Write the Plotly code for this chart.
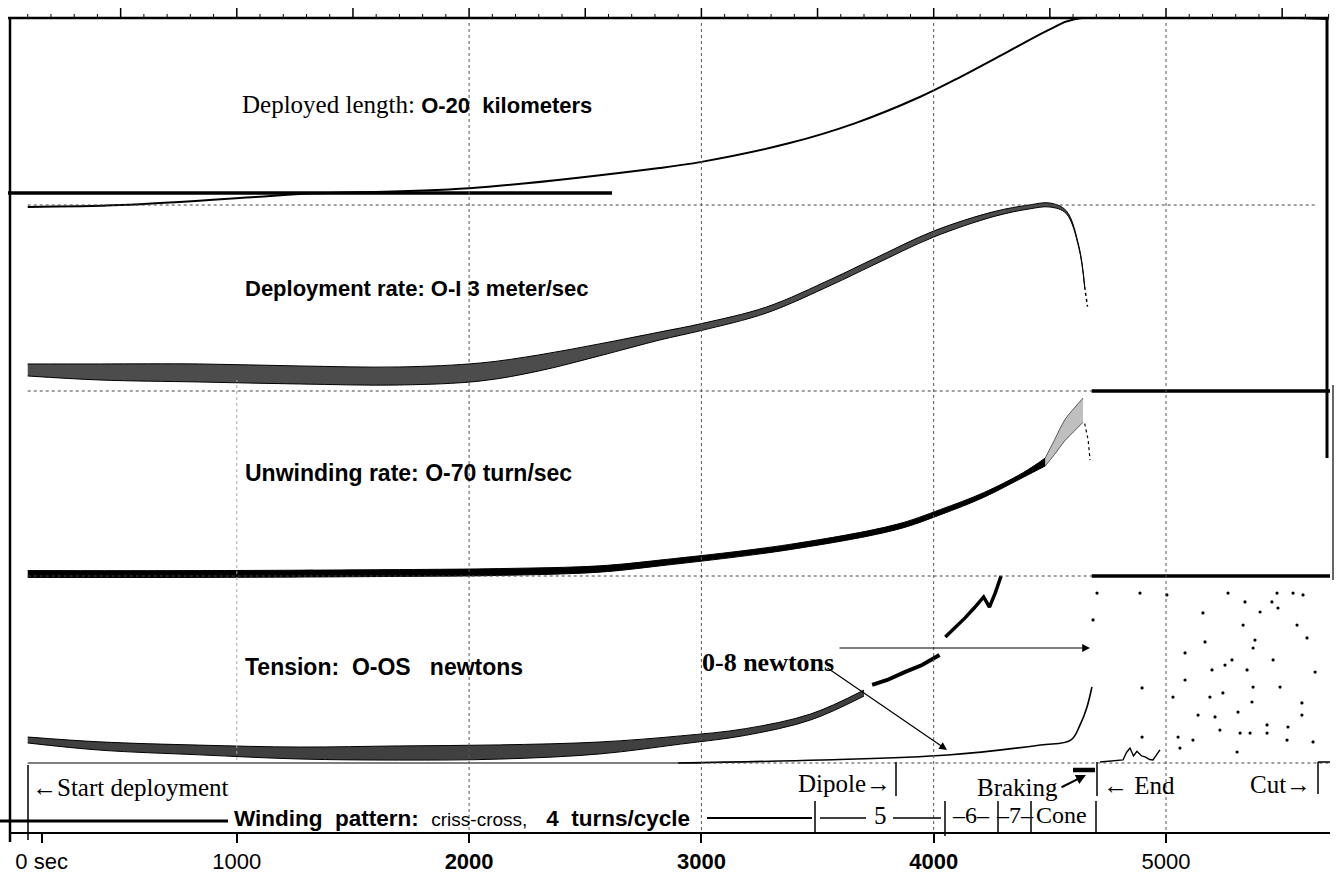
import plotly.graph_objects as go

# ---------------- data ----------------
# time axis in seconds
len_t = [100, 500, 1080, 1270, 2000, 2820, 3000, 3380, 3660, 3940, 4120, 4310, 4500, 4610, 5700]
len_km = [0.0, 0.2, 1.06, 1.38, 2.0, 4.15, 4.8, 6.8, 8.9, 11.7, 13.9, 16.4, 18.9, 20.0, 20.0]

rate_t = [100, 410, 840, 1270, 1700, 2050, 2300, 2560, 2820, 3000, 3280, 3560, 3740, 4000, 4260, 4410, 4500, 4570, 4625, 4650]
rate_v = [1.47, 1.33, 1.26, 1.12, 1.05, 1.33, 1.96, 2.87, 3.84, 4.47, 5.66, 7.62, 9.01, 10.97, 12.37, 12.86, 13.0, 12.51, 10.06, 7.27]
rate_spread = [0.42, 0.56, 0.63, 0.63, 0.63, 0.63, 0.56, 0.42, 0.28, 0.24, 0.21, 0.21, 0.21, 0.21, 0.17, 0.14, 0.14, 0.10, 0.07, 0.07]
rate_tail_t = [4650, 4656, 4662]
rate_tail_v = [7.27, 6.6, 5.9]

unw_t = [100, 840, 1700, 2130, 2560, 2820, 3380, 3840, 4030, 4215, 4385, 4480]
unw_v = [0.76, 0.76, 1.14, 1.52, 2.66, 4.94, 11.03, 18.64, 24.34, 30.81, 38.42, 43.36]
unw_spread = [1.3, 1.3, 1.3, 1.3, 1.2, 1.1, 1.0, 1.0, 1.0, 0.9, 0.9, 1.5]
unw_sc_t = [4480, 4520, 4565, 4605, 4643]
unw_sc_v = [43.36, 49.0, 55.5, 59.5, 63.1]
unw_sc_spread = [1.5, 2.8, 4.0, 4.4, 4.6]
unw_tail_t = [4650, 4665, 4673]
unw_tail_v = [58.0, 51.7, 44.1]

ten_t = [100, 410, 840, 1270, 1700, 2130, 2560, 2910, 3190, 3470, 3700]
ten_v = [0.0615, 0.0455, 0.0348, 0.0267, 0.0267, 0.0294, 0.0401, 0.0615, 0.0829, 0.123, 0.187]
ten_spread = [0.008, 0.011, 0.013, 0.016, 0.019, 0.019, 0.016, 0.011, 0.009, 0.008, 0.008]
ten2_t = [3735, 3800, 3875, 3950, 4025]
ten2_v = [0.209, 0.222, 0.243, 0.262, 0.289]
ten3_t = [4050, 4090, 4135, 4175, 4215, 4240, 4265, 4290]
ten3_v = [0.337, 0.360, 0.388, 0.415, 0.444, 0.417, 0.455, 0.5]

t8_t = [2900, 3520, 4060, 4460, 4590, 4630, 4660, 4681]
t8_v = [0.0, 0.13, 0.34, 0.77, 0.98, 1.63, 2.4, 3.25]

end_t = [4716, 4815, 4830, 4845, 4860, 4875, 4895, 4910, 4930, 4944, 4974]
end_v = [0.04, 0.13, 0.45, 0.64, 0.30, 0.50, 0.30, 0.26, 0.15, 0.13, 0.56]

post_t = [4703, 4888, 5004, 5267, 5340, 5478, 5547, 5590, 5456, 5405, 5159, 5482, 5332, 5564,
          5607, 5383, 5168, 5375, 5082, 5461, 5254, 5284, 5349, 5198, 5375, 5642, 4897, 5082,
          5189, 5245, 5491, 5585, 5370, 5030, 5138, 5211, 5585, 5310, 5435, 5525, 5232, 5319,
          5116, 5052, 5060, 5362, 5435, 5306, 5521, 5633, 4897, 4686]
post_v = [7.27, 7.27, 7.19, 7.27, 6.89, 7.27, 7.27, 7.19, 6.89, 6.46, 6.42, 6.63, 5.90, 5.90,
          5.35, 5.26, 5.18, 4.92, 4.71, 4.41, 4.19, 4.41, 3.98, 3.98, 3.25, 3.89, 3.21, 3.55,
          2.82, 3.00, 3.25, 2.57, 2.61, 2.82, 2.05, 1.97, 2.05, 2.18, 1.63, 1.54, 1.41, 1.28,
          0.98, 1.11, 0.64, 1.28, 1.28, 0.47, 0.98, 0.90, 1.11, 6.12]

tick_vals = [160, 1000, 2000, 3000, 4000, 5000]
tick_text = ["0 sec", "1000", "<b>2000</b>", "<b>3000</b>", "<b>4000</b>", "5000"]

# ---------------- layout geometry ----------------
W, H = 1337, 875
L, R, T, B = 10, 1330, 18, 832
PX0, KPX = 4.5, 0.2323
xr = [(L - PX0) / KPX, (R - PX0) / KPX]


def X(px):
    return (px - L) / (R - L)


def Y(px):
    return (B - px) / (B - T)


def yrange(v0, p0, v1, p1):
    b = (p1 - p0) / (v1 - v0)
    a = p0 - b * v0
    return [(B - a) / b, (T - a) / b]


SERIF = "Liberation Serif"
SANS = "Liberation Sans"

fig = go.Figure()


def band(t, c, hw, ya, fillalpha=0.6, width=1.0, shape="spline"):
    lo = [a - b for a, b in zip(c, hw)]
    up = [a + b for a, b in zip(c, hw)]
    fig.add_trace(go.Scatter(x=t, y=lo, xaxis="x", yaxis=ya, mode="lines",
                             line=dict(color="black", width=width, shape=shape)))
    fig.add_trace(go.Scatter(x=t, y=up, xaxis="x", yaxis=ya, mode="lines",
                             line=dict(color="black", width=width, shape=shape),
                             fill="tonexty", fillcolor="rgba(0,0,0,%s)" % fillalpha))


# deployed length
fig.add_trace(go.Scatter(x=len_t, y=len_km, xaxis="x", yaxis="y", mode="lines",
                         line=dict(color="black", width=2, shape="spline")))
# deployment rate
band(rate_t, rate_v, rate_spread, "y2", fillalpha=0.7)
fig.add_trace(go.Scatter(x=rate_tail_t, y=rate_tail_v, yaxis="y2", mode="lines",
                         line=dict(color="black", width=1.5, dash="dot")))
# unwinding rate
band(unw_t, unw_v, unw_spread, "y3", fillalpha=1.0)
band(unw_sc_t, unw_sc_v, unw_sc_spread, "y3", fillalpha=0.25, width=0.6)
fig.add_trace(go.Scatter(x=unw_tail_t, y=unw_tail_v, yaxis="y3", mode="lines",
                         line=dict(color="black", width=1.2, dash="dot")))
# tension 0-0.5 N
band(ten_t, ten_v, ten_spread, "y4", fillalpha=0.75)
fig.add_trace(go.Scatter(x=ten2_t, y=ten2_v, yaxis="y4", mode="lines",
                         line=dict(color="black", width=4)))
fig.add_trace(go.Scatter(x=ten3_t, y=ten3_v, yaxis="y4", mode="lines",
                         line=dict(color="black", width=3.5)))
# tension 0-8 N
fig.add_trace(go.Scatter(x=t8_t, y=t8_v, yaxis="y5", mode="lines",
                         line=dict(color="black", width=1.6, shape="spline")))
fig.add_trace(go.Scatter(x=end_t, y=end_v, yaxis="y5", mode="lines",
                         line=dict(color="black", width=1.4)))
fig.add_trace(go.Scatter(x=post_t, y=post_v, yaxis="y5", mode="markers",
                         marker=dict(color="black", size=3.2)))

# ---------------- shapes ----------------
shapes = []


def pline(x0, y0, x1, y1, w=1.5, dash="solid", color="black"):
    shapes.append(dict(type="line", xref="paper", yref="paper", x0=X(x0), y0=Y(y0),
                       x1=X(x1), y1=Y(y1), line=dict(color=color, width=w, dash=dash)))


def aline(t0, t1, v, ya, w=1.0, dash="dot", color="#444"):
    shapes.append(dict(type="line", xref="x", yref=ya, x0=t0, x1=t1, y0=v, y1=v,
                       line=dict(color=color, width=w, dash=dash)))


# frame
pline(8, 18, 1328, 18, 2.5)
pline(10, 18, 10, 842, 2.5)
pline(1327, 17, 1327, 458, 3)
pline(1333, 385, 1333, 580, 1.2)
pline(8, 193, 612, 193, 3.5)
# top ruler: minor and major ticks above the top line
for k in range(0, 58):
    tt = k * 100
    if tt < xr[0] or tt > xr[1]:
        continue
    major = (k % 5 == 0)
    shapes.append(dict(type="line", xref="x", yref="paper", x0=tt, x1=tt,
                       y0=Y(18), y1=Y(8 if major else 14),
                       line=dict(color="black", width=1.5 if major else 1)))
# panel reference lines
aline(100, 5640, 13, "y2")
aline(100, 4680, 0, "y2")
aline(4680, xr[1], 0, "y2", w=3.5, dash="solid", color="black")
aline(100, 4680, 0, "y3")
aline(4680, xr[1], 0, "y3", w=3.5, dash="solid", color="black")
aline(100, 3000, 0, "y4", w=1.2, dash="solid", color="black")
aline(3000, xr[1], 0, "y4")
# vertical grid
for gt in [2000, 3000, 4000, 5000]:
    shapes.append(dict(type="line", xref="x", yref="paper", x0=gt, x1=gt, y0=Y(830), y1=Y(22),
                       line=dict(color="#555", width=1, dash="dot")))
shapes.append(dict(type="line", xref="x", yref="paper", x0=1000, x1=1000, y0=Y(760), y1=Y(380),
                   line=dict(color="#aaa", width=1, dash="dot")))
# bottom event markers
pline(28, 765, 28, 840, 1.5)
pline(896, 762, 896, 796, 1.5)
pline(1073, 770, 1095, 770, 4.5)
pline(1097, 762, 1097, 796, 1.5)
pline(1318, 762, 1318, 794, 1.5)
pline(1318, 762, 1330, 762, 1.5)
# winding-pattern row
pline(0, 821, 228, 821, 3)
pline(707, 818, 812, 818, 2)
pline(815, 801, 815, 832, 1.5)
pline(820, 818, 866, 818, 1.5)
pline(893, 818, 941, 818, 1.5)
pline(945, 801, 945, 836, 1.5)
pline(998, 801, 998, 832, 1.5)
pline(1031, 801, 1031, 832, 1.5)
pline(1096, 801, 1096, 832, 1.5)

# ---------------- annotations ----------------
ann = []


def txt(px, py, s, size, family=SANS, anchor="left"):
    ann.append(dict(xref="paper", yref="paper", x=X(px), y=Y(py), text=s, showarrow=False,
                    xanchor=anchor, yanchor="middle",
                    font=dict(family=family, size=size, color="black")))


def arrow(hx, hy, tx, ty, w=1.2, size=1.3):
    ann.append(dict(xref="paper", yref="paper", x=X(hx), y=Y(hy), ax=tx - hx, ay=ty - hy,
                    axref="pixel", ayref="pixel", text="", showarrow=True, arrowhead=2,
                    arrowsize=size, arrowwidth=w, arrowcolor="black"))


nb = "\u00a0"
txt(240, 104, '<span style="font-family:%s;font-size:25px">Deployed length: </span><b>O-20%skilometers</b>'
    % (SERIF, nb * 2), 22)
txt(243, 288, "<b>Deployment rate: O-I 3 meter/sec</b>", 22)
txt(243, 473, "<b>Unwinding rate: O-70 turn/sec</b>", 23)
txt(243, 667, "<b>Tension:%sO-OS%snewtons</b>" % (nb * 2, nb * 3), 23)
txt(700, 662, "<b>0-8 newtons</b>", 26, SERIF)
arrow(1090, 648, 838, 648)
arrow(947, 750, 826, 667)

txt(30, 787, "←Start deployment", 25, SERIF)
txt(893, 783, "Dipole→", 25, SERIF, anchor="right")
txt(975, 787, "Braking", 25, SERIF)
arrow(1086, 775, 1060, 788, w=2, size=1.0)
txt(1101, 785, "← End", 25, SERIF)
txt(1313, 784, "Cut→", 25, SERIF, anchor="right")
txt(232, 818, '<b>Winding%spattern:</b>%s<span style="font-size:19px">criss-cross,</span>%s<b>4%sturns/cycle</b>'
    % (nb * 2, nb * 2, nb * 3, nb * 2), 22.5)
txt(880, 815, "5", 25, SERIF, anchor="center")
txt(971, 815, "–6–", 24, SERIF, anchor="center")
txt(1015, 815, "–7–", 24, SERIF, anchor="center")
txt(1034, 815, "Cone", 24, SERIF)

# ---------------- layout ----------------
hidden = dict(visible=False, showgrid=False, zeroline=False, anchor="x")
fig.update_layout(
    width=W, height=H,
    margin=dict(l=L, r=W - R, t=T, b=H - B, pad=0, autoexpand=False),
    paper_bgcolor="white", plot_bgcolor="white",
    showlegend=False,
    xaxis=dict(range=xr, showgrid=False, zeroline=False, showline=True, linecolor="black",
               linewidth=1.5, ticks="outside", ticklen=9, tickwidth=1.5, tickcolor="black",
               tickvals=tick_vals, ticktext=tick_text, automargin=False, mirror=False,
               tickfont=dict(family=SANS, size=22, color="black")),
    yaxis=dict(range=yrange(0, 207, 20, 19), **hidden),
    yaxis2=dict(range=yrange(0, 391, 13, 205), overlaying="y", **hidden),
    yaxis3=dict(range=yrange(0, 576, 70, 392), overlaying="y", **hidden),
    yaxis4=dict(range=yrange(0, 763, 0.5, 576), overlaying="y", **hidden),
    yaxis5=dict(range=yrange(0, 763, 8, 576), overlaying="y", **hidden),
    shapes=shapes,
    annotations=ann,
)

fig.write_html("out.html", config={"displayModeBar": False},
               post_script="document.body.style.margin='0';document.body.style.overflow='hidden';")
